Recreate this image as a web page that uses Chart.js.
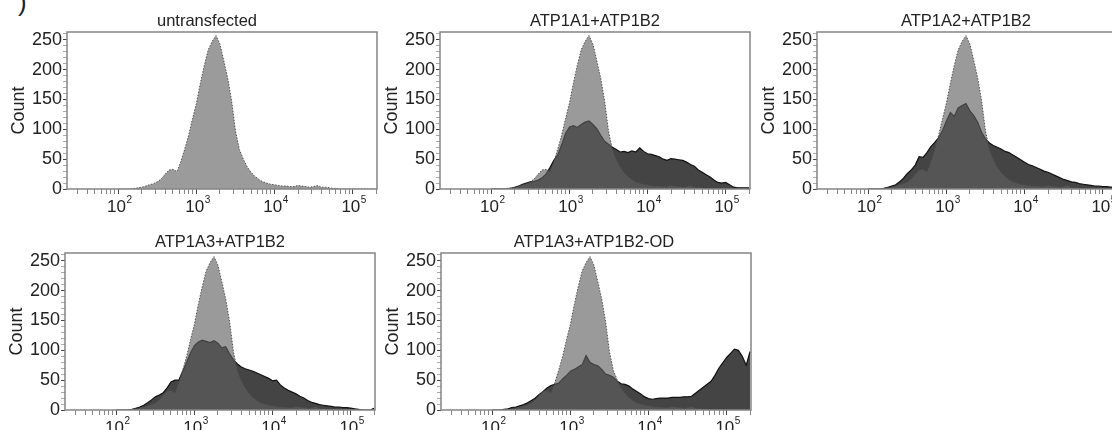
<!DOCTYPE html>
<html>
<head>
<meta charset="utf-8">
<script src="https://cdn.jsdelivr.net/npm/chart.js@4.4.1/dist/chart.umd.min.js"></script>
<style>
  html, body { margin: 0; padding: 0; background: #fff; overflow: hidden; width: 1112px; height: 430px; }
  body { position: relative; }
  canvas { position: absolute; }
  #tag { position: absolute; left: 18px; top: -13px; font: 26px "Liberation Sans", Arial, sans-serif; color: #222; }
</style>
</head>
<body>
<div id="tag">)</div>
<canvas id="p1" width="385" height="219" style="left:0px;top:0px"></canvas>
<canvas id="p2" width="385" height="219" style="left:373px;top:0px"></canvas>
<canvas id="p3" width="385" height="219" style="left:750px;top:0px"></canvas>
<canvas id="p4" width="385" height="219" style="left:-2px;top:221px"></canvas>
<canvas id="p5" width="385" height="219" style="left:374px;top:221px"></canvas>
<script>
// histogram bins (log10 of fluorescence)
const bins = [
  2.00, 2.05, 2.10, 2.15, 2.20, 2.25, 2.30, 2.35, 2.40, 2.45,
  2.50, 2.55, 2.60, 2.65, 2.70, 2.75, 2.80, 2.85, 2.90, 2.95,
  3.00, 3.05, 3.10, 3.15, 3.20, 3.25, 3.30, 3.35, 3.40, 3.45,
  3.50, 3.55, 3.60, 3.65, 3.70, 3.75, 3.80, 3.85, 3.90, 3.95,
  4.00, 4.05, 4.10, 4.15, 4.20, 4.25, 4.30, 4.35, 4.40, 4.45,
  4.50, 4.55, 4.60, 4.65, 4.70, 4.75, 4.80, 4.85, 4.90, 4.95,
  5.00, 5.05, 5.10, 5.15, 5.20, 5.25, 5.30
];

// counts per bin
const untransfected = [
  0, 0, 0, 0, 1, 2, 3, 5, 7, 9,
  12, 17, 25, 32, 33, 29, 46, 67, 90, 118,
  144, 177, 207, 233, 247, 257, 243, 215, 186, 148,
  97, 66, 50, 37, 28, 21, 16, 12, 10, 8,
  7, 6, 5, 5, 4, 4, 6, 5, 4, 3,
  4, 6, 3, 3, 2, 1, 1, 0, 0, 0,
  0, 0, 0, 0, 0, 0, 0
];
const atp1a1 = [
  0, 0, 0, 0, 0, 1, 3, 5, 8, 10,
  12, 13, 15, 19, 25, 36, 48, 57, 74, 93,
  104, 106, 103, 108, 112, 114, 108, 101, 90, 80,
  75, 70, 66, 62, 63, 61, 64, 62, 69, 63,
  59, 58, 56, 54, 50, 48, 51, 50, 49, 48,
  45, 41, 38, 32, 28, 24, 20, 15, 11, 10,
  11, 7, 3, 2, 2, 2, 2
];
const atp1a2 = [
  0, 0, 0, 0, 1, 3, 5, 7, 12, 18,
  26, 32, 40, 54, 53, 61, 71, 78, 86, 98,
  114, 128, 122, 136, 140, 143, 131, 123, 112, 95,
  84, 77, 73, 70, 67, 63, 61, 57, 53, 49,
  45, 41, 39, 36, 33, 30, 28, 25, 22, 19,
  16, 14, 12, 11, 9, 8, 7, 6, 5, 5,
  4, 4, 3, 3, 2, 2, 2
];
const atp1a3 = [
  0, 0, 0, 0, 1, 3, 5, 8, 12, 17,
  22, 25, 29, 37, 47, 50, 50, 65, 80, 96,
  108, 114, 117, 115, 113, 116, 112, 104, 106, 94,
  84, 77, 72, 69, 67, 65, 62, 59, 56, 53,
  49, 50, 42, 37, 33, 30, 27, 23, 20, 16,
  13, 11, 9, 8, 7, 6, 5, 5, 4, 4,
  3, 2, 1, 0, 0, 0, 3
];
const atp1a3od = [
  0, 0, 0, 1, 2, 4, 5, 7, 9, 12,
  16, 20, 26, 31, 37, 41, 43, 45, 52, 58,
  65, 68, 72, 76, 91, 80, 76, 74, 68, 60,
  58, 55, 48, 44, 43, 40, 35, 31, 27, 22,
  19, 18, 19, 20, 20, 20, 21, 21, 21, 22,
  22, 23, 28, 33, 38, 43, 48, 58, 70, 79,
  88, 95, 102, 100, 90, 75, 98
];

const xMajor = [100, 1000, 10000, 100000];
const xExponents = ['2', '3', '4', '5'];
const yLabels = [0, 50, 100, 150, 200, 250];

const FONT = '"Liberation Sans", Arial, sans-serif';
Chart.defaults.font.family = FONT;
Chart.defaults.color = '#222';

// minor tick positions
const xTicks = [];
[10, 100, 1000, 10000, 100000].forEach(d => {
  for (let k = 1; k <= 9; k++) {
    const v = k * d;
    if (v >= 22 && v <= 205000) xTicks.push(v);
  }
});
const yTicks = [];
for (let v = 0; v <= 260; v += 10) yTicks.push(v);

function pts(counts) {
  return bins.map((e, i) => ({ x: Math.pow(10, e), y: counts[i] }));
}

const framePlugin = {
  id: 'frame',
  afterDraw(chart, args, opts) {
    const { ctx, chartArea: a } = chart;
    ctx.save();
    ctx.strokeStyle = '#858585';
    ctx.lineWidth = 1.5;
    ctx.strokeRect(a.left, a.top, a.right - a.left, a.bottom - a.top);
    ctx.fillStyle = '#222';
    ctx.font = '16.5px ' + FONT;
    ctx.textAlign = 'center';
    ctx.textBaseline = 'middle';
    ctx.fillText(opts.text, (a.left + a.right) / 2 + (opts.shift || 0), a.top - 11);

    // decade labels 10^n under the x axis
    const sx = chart.scales.x;
    ctx.textAlign = 'left';
    ctx.textBaseline = 'alphabetic';
    xMajor.forEach((v, i) => {
      const px = sx.getPixelForValue(v);
      ctx.font = '17px ' + FONT;
      const wb = ctx.measureText('10').width;
      ctx.font = '10px ' + FONT;
      const we = ctx.measureText(xExponents[i]).width;
      const x0 = px - (wb + we) / 2 + 1;
      const base = a.bottom + 23;
      ctx.font = '17px ' + FONT;
      ctx.fillText('10', x0, base);
      ctx.font = '10px ' + FONT;
      ctx.fillText(xExponents[i], x0 + wb + 0.5, base - 9);
    });
    ctx.restore();
  }
};

function panel(id, title, counts, shift) {
  const datasets = [{
    data: pts(untransfected),
    order: 0,
    fill: 'origin',
    backgroundColor: counts ? 'rgba(95,95,95,0.63)' : '#9b9b9b',
    borderColor: 'rgba(70,70,70,0.9)',
    borderWidth: 1,
    borderDash: [1.5, 1.5],
    pointRadius: 0,
    tension: 0
  }];
  if (counts) {
    datasets.push({
      data: pts(counts),
      order: 1,
      fill: 'origin',
      backgroundColor: '#444444',
      borderColor: '#111',
      borderWidth: 1.2,
      pointRadius: 0,
      tension: 0
    });
  }
  new Chart(document.getElementById(id), {
    type: 'line',
    data: { datasets },
    plugins: [framePlugin],
    options: {
      responsive: false,
      animation: false,
      layout: { padding: { top: 32, right: 8, bottom: 0, left: 0 } },
      plugins: {
        legend: { display: false },
        tooltip: { enabled: false },
        frame: { text: title, shift: shift }
      },
      scales: {
        x: {
          type: 'logarithmic',
          min: 22,
          max: 205000,
          afterBuildTicks: s => { s.ticks = xTicks.map(v => ({ value: v })); },
          afterFit: s => { s.height = 30; },
          border: { display: false },
          grid: {
            drawOnChartArea: false,
            tickLength: 5,
            tickColor: c => (c.tick && xMajor.includes(c.tick.value)) ? '#444' : '#888'
          },
          ticks: {
            autoSkip: false,
            maxRotation: 0,
            callback: () => ''
          }
        },
        y: {
          min: 0,
          max: 263,
          afterBuildTicks: s => { s.ticks = yTicks.map(v => ({ value: v })); },
          afterFit: s => { s.width = 67; },
          border: { display: false },
          grid: {
            drawOnChartArea: false,
            tickLength: 4,
            tickColor: c => (c.tick && yLabels.includes(c.tick.value)) ? '#444' : '#aaa'
          },
          ticks: {
            autoSkip: false,
            padding: 1,
            color: '#222',
            font: { size: 18 },
            callback: v => yLabels.includes(v) ? String(v) : ''
          },
          title: {
            display: true,
            text: 'Count',
            color: '#222',
            font: { size: 18 },
            padding: { top: 8, bottom: 0 }
          }
        }
      }
    }
  });
}

panel('p1', 'untransfected', null, -15);
panel('p2', 'ATP1A1+ATP1B2', atp1a1, 0);
panel('p3', 'ATP1A2+ATP1B2', atp1a2, -6);
panel('p4', 'ATP1A3+ATP1B2', atp1a3, 0);
panel('p5', 'ATP1A3+ATP1B2-OD', atp1a3od, -2);
</script>
</body>
</html>
